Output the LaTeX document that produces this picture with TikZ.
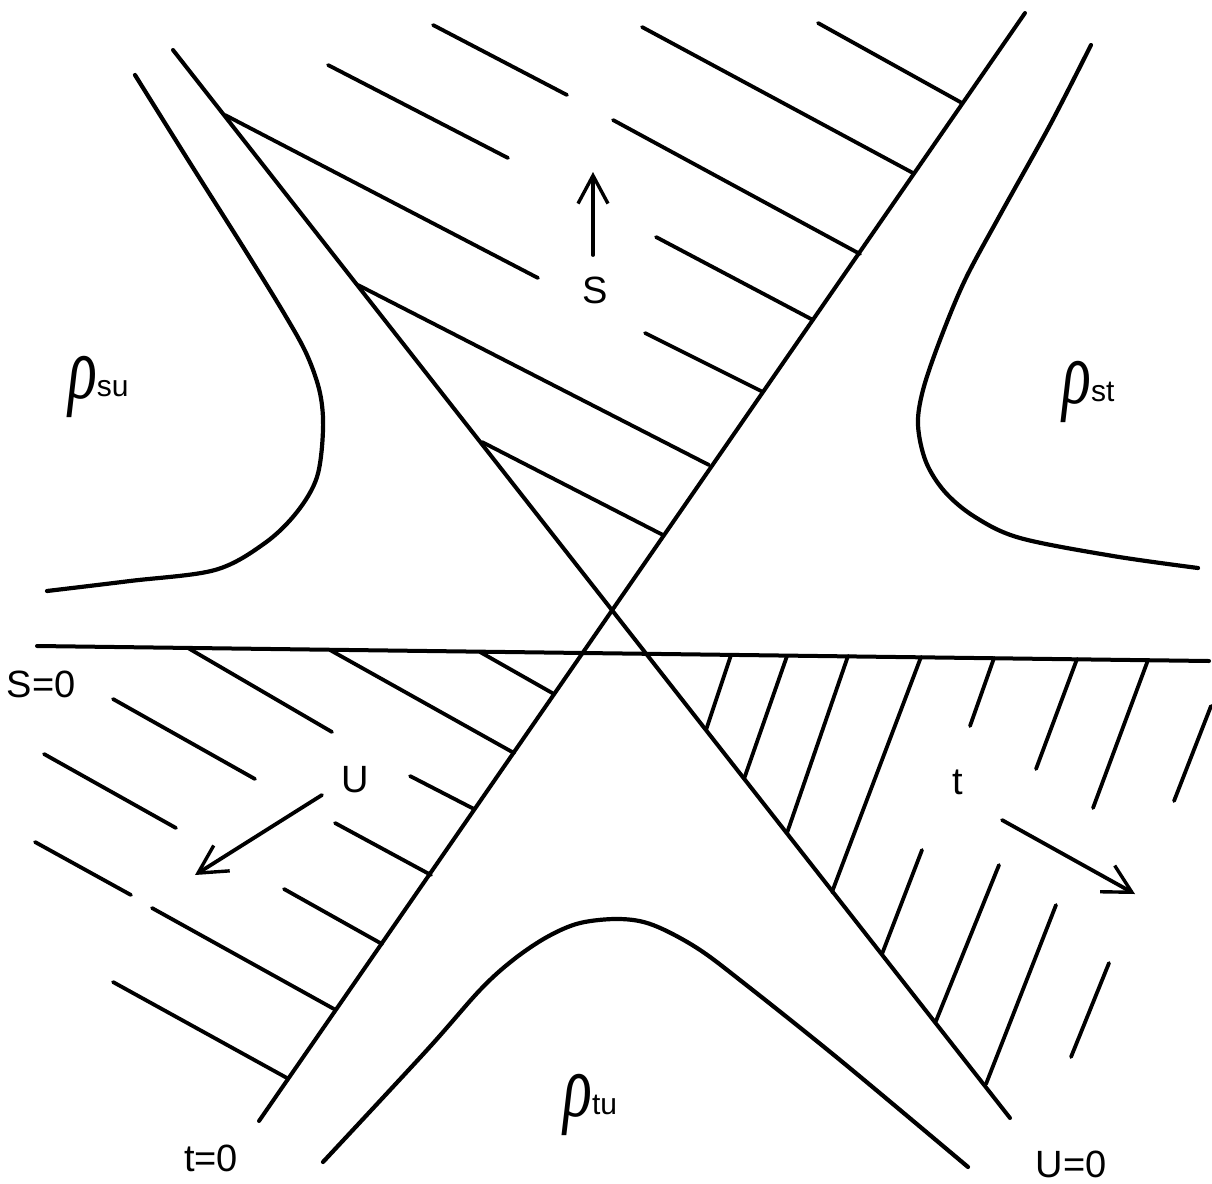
\documentclass[tikz,border=0pt]{standalone}
\usepackage{graphicx}
\usepackage{fontspec}
\setmainfont{Liberation Sans}
\newfontfamily\rhofont{Liberation Serif}
\usetikzlibrary{arrows.meta}
\begin{document}
\begin{tikzpicture}[x=1pt,y=-1pt,
  axisline/.style={line width=4pt,line cap=round},
  bound/.style={line width=4.2pt,line cap=round,line join=round},
  hatch/.style={line width=3.8pt,line cap=round},
  handarrow/.style={line width=3.8pt,line cap=round,
    -{Straight Barb[length=28pt,width=30pt,line width=3.4pt]}},
  lbl/.style={font=\fontsize{38}{42}\selectfont,inner sep=0pt},
  rholbl/.style={inner sep=0pt,anchor=base west}]

\fill[white] (0,0) rectangle (1212,1183);
\useasboundingbox (0,0) rectangle (1212,1183);

% the three lines s=0, t=0, u=0
\coordinate (s0a) at (37,646);  \coordinate (s0b) at (1209,661);
\coordinate (t0a) at (259,1121); \coordinate (t0b) at (1025,13);
\coordinate (u0a) at (173,50);  \coordinate (u0b) at (1010,1118);
\draw[axisline] (s0a) -- (s0b);
\draw[axisline] (t0a) -- (t0b);
\draw[axisline] (u0a) -- (u0b);

% boundaries of the double spectral functions
\draw[bound] plot[smooth,tension=0.55] coordinates {(135,75) (190,163) (245,250) (285,315) (307,355) (320,393) (323,430) (317,477) (297,512) (265,543) (215,570) (130,581) (47,591)};
\draw[bound] plot[smooth,tension=0.55] coordinates {(1091,45) (1050,125) (1000,215) (965,280) (940,340) (923,390) (918,425) (926,462) (945,492) (975,517) (1020,538) (1113,556) (1198,568)};
\draw[bound] plot[smooth,tension=0.55] coordinates {(323,1162) (427,1050) (480,990) (513,960) (547,937) (580,923) (620,919) (653,925) (697,948) (745,984) (840,1060) (968,1167)};

% hatching: s region (top)
\foreach \xa/\ya/\xb/\yb in {433/25/567/95, 642/27/913/173, 818/23/962/103,
  328/65/508/158, 613/120/860/254, 225/115/538/278, 656/237/813/320,
  358/285/709/465, 645/333/763/392, 482/442/663/535}
  \draw[hatch] (\xa,\ya) -- (\xb,\yb);

% hatching: u region (left)
\foreach \xa/\ya/\xb/\yb in {188/648/332/732, 330/650/514/753, 480/652/554/694,
  113/699/255/779, 44/754/176/828, 410/776/474/809, 335/823/431/875,
  35/842/131/895, 152/908/334/1009, 284/889/382/944, 113/982/287/1078}
  \draw[hatch] (\xa,\ya) -- (\xb,\yb);

% hatching: t region (right)
\foreach \xa/\ya/\xb/\yb in {731/655/706/730, 787/656/744/779, 848/656/787/833,
  921/657/832/892, 994/658/970/726, 1077/659/1036/769, 1148/660/1093/808,
  1211/706/1174/801, 922/850/882/954, 999/865/936/1021, 1056/905/986/1084,
  1109/963/1071/1057}
  \draw[hatch] (\xa,\ya) -- (\xb,\yb);

% direction arrows
\coordinate (sarA) at (593,255); \coordinate (sarB) at (593,172);
\coordinate (uarA) at (322,795); \coordinate (uarB) at (195,875);
\coordinate (tarA) at (1002,820); \coordinate (tarB) at (1135,894);
\draw[handarrow] (sarA) -- (sarB);
\draw[handarrow] (uarA) -- (uarB);
\draw[handarrow] (tarA) -- (tarB);

% labels
\node[lbl] (lS) at (595,290) {S};
\node[lbl] (lU) at (355,780) {U};
\node[lbl] (lt) at (958,782) {t};
\node[lbl] (ls0) at (41,684) {S=0};
\node[lbl] (lt0) at (211,1158) {t=0};
\node[lbl] (lu0) at (1071,1164) {U=0};

\node[rholbl] (rsu) at (68,398) {\fontsize{60}{60}\rhofont\itshape\scalebox{1}[1.5]{ρ}\raisebox{2pt}{\normalfont\fontsize{30}{30}\selectfont su}};
\node[rholbl] (rst) at (1062,403) {\fontsize{60}{60}\rhofont\itshape\scalebox{1}[1.5]{ρ}\raisebox{2pt}{\normalfont\fontsize{30}{30}\selectfont st}};
\node[rholbl] (rtu) at (563,1116) {\fontsize{60}{60}\rhofont\itshape\scalebox{1}[1.5]{ρ}\raisebox{2pt}{\normalfont\fontsize{30}{30}\selectfont tu}};
\end{tikzpicture}
\end{document}
